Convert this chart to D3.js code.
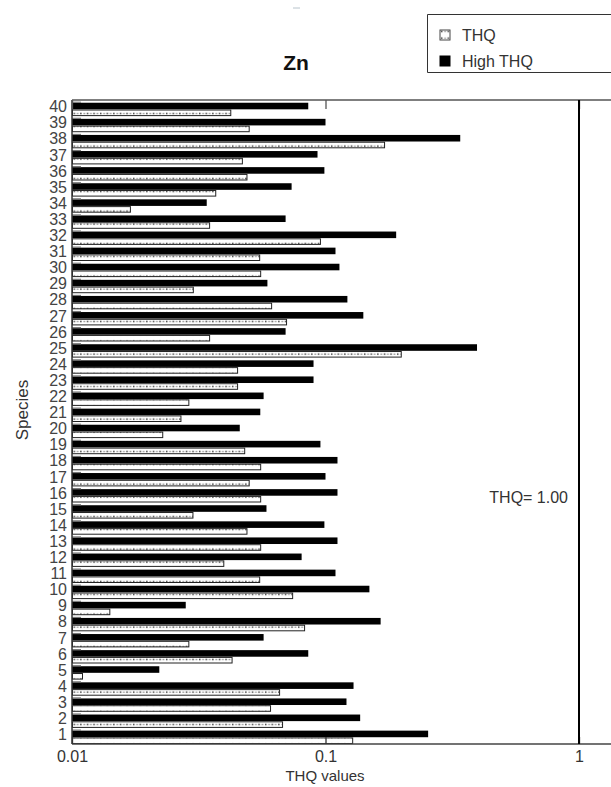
<!DOCTYPE html>
<html>
<head>
<meta charset="utf-8">
<script src="https://cdn.jsdelivr.net/npm/d3@7"></script>
<style>
  html, body { margin: 0; padding: 0; background: #fff; overflow: hidden; width: 611px; height: 787px; }
  svg { display: block; overflow: hidden; font-family: "Liberation Sans", Arial, sans-serif; }
</style>
</head>
<body>
<svg id="chart" width="611" height="787"></svg>
<script>
// ---- data ----
const species = d3.range(1, 41).map(String);            // "1" .. "40"
const seriesNames = ["THQ", "High THQ"];
const thqValues = [0.128, 0.0677, 0.0607, 0.0659, 0.011, 0.0428, 0.0289, 0.0827, 0.0141, 0.0742,
                   0.055, 0.0397, 0.0555, 0.049, 0.030, 0.0555, 0.050, 0.0555, 0.048, 0.0228,
                   0.0269, 0.0289, 0.045, 0.045, 0.199, 0.0349, 0.0702, 0.0613, 0.0301, 0.0555,
                   0.055, 0.0955, 0.0349, 0.017, 0.0369, 0.049, 0.047, 0.171, 0.050, 0.0423];
const highThqValues = [0.254, 0.137, 0.121, 0.129, 0.0221, 0.0855, 0.057, 0.165, 0.0281, 0.149,
                       0.1095, 0.0805, 0.1115, 0.099, 0.0585, 0.1115, 0.100, 0.1115, 0.0955, 0.0459,
                       0.0553, 0.057, 0.0897, 0.0897, 0.396, 0.0696, 0.141, 0.122, 0.059, 0.1135,
                       0.1095, 0.190, 0.0696, 0.034, 0.0735, 0.099, 0.093, 0.34, 0.100, 0.0855];
const xTickValues = [0.01, 0.1, 1];
const xTickLabels = ["0.01", "0.1", "1"];
const thresholdValue = 1.0;
const thresholdLabel = "THQ= 1.00";
const chartTitle = "Zn";
const xTitle = "THQ values";
const yTitle = "Species";

// ---- layout ----
const svg = d3.select("#chart");
const W = 611;
const pLeft = 72, pTop = 100, pBottom = 744;
const textColor = "#333";

const x = d3.scaleLog().domain([0.01, 1]).range([pLeft, 579]);
const y = d3.scaleBand().domain(species.slice().reverse()).range([pTop, pBottom]).paddingInner(0);
const bw = y.bandwidth();
const sub = d3.scaleBand().domain(["high", "thq"]).range([bw * 0.17, bw]).paddingInner(0.03);

// dotted pattern
const defs = svg.append("defs");
const pat = defs.append("pattern").attr("id", "dots").attr("patternUnits", "userSpaceOnUse")
  .attr("width", 6.6).attr("height", 6.5);
pat.append("rect").attr("width", 6.6).attr("height", 6.5).attr("fill", "#fff");
pat.append("rect").attr("x", 1).attr("y", 2.4).attr("width", 1.4).attr("height", 1.4).attr("fill", "#222");
pat.append("rect").attr("x", 4.2).attr("y", 2.6).attr("width", 1.8).attr("height", 1).attr("fill", "#777");

// faint artifact dash at the top
svg.append("line").attr("x1", 293).attr("x2", 300).attr("y1", 8).attr("y2", 8)
  .attr("stroke", "#b8c4cc").attr("stroke-width", 1);

const rows = species.map((s, i) => ({ s, thq: thqValues[i], high: highThqValues[i] }));

const g = svg.append("g");

// High THQ (black) bars
g.selectAll("rect.high").data(rows).join("rect")
  .attr("class", "high")
  .attr("x", pLeft)
  .attr("y", d => y(d.s) + sub("high"))
  .attr("width", d => x(d.high) - pLeft)
  .attr("height", sub.bandwidth())
  .attr("fill", "#000");

// THQ (dotted) bars
g.selectAll("rect.thq").data(rows).join("rect")
  .attr("class", "thq")
  .attr("x", pLeft + 0.5)
  .attr("y", d => y(d.s) + sub("thq") + 0.5)
  .attr("width", d => x(d.thq) - pLeft - 0.5)
  .attr("height", sub.bandwidth() - 1)
  .attr("fill", "url(#dots)")
  .attr("stroke", "#222")
  .attr("stroke-width", 1);

// small gray marks at left of each black bar
g.selectAll("line.mk").data(rows).join("line")
  .attr("class", "mk")
  .attr("x1", pLeft).attr("x2", pLeft + 9)
  .attr("y1", d => y(d.s) + sub("high") - 0.5)
  .attr("y2", d => y(d.s) + sub("high") - 0.5)
  .attr("stroke", "#777").attr("stroke-width", 1.2);

// frame: top and bottom lines, left axis
svg.append("line").attr("x1", pLeft).attr("x2", W + 10).attr("y1", pTop).attr("y2", pTop)
  .attr("stroke", "#555").attr("stroke-width", 1.3);
svg.append("line").attr("x1", pLeft).attr("x2", W + 10).attr("y1", pBottom).attr("y2", pBottom)
  .attr("stroke", "#444").attr("stroke-width", 1.3);
svg.append("line").attr("x1", pLeft).attr("x2", pLeft).attr("y1", pTop).attr("y2", pBottom)
  .attr("stroke", "#333").attr("stroke-width", 1.5);

// x axis ticks (inward) + labels
const xAxisB = d3.axisBottom(x).tickValues(xTickValues).tickFormat((d, i) => xTickLabels[i]).tickSize(-7).tickPadding(7);
const gxb = svg.append("g").attr("transform", `translate(0,${pBottom})`).call(xAxisB);
gxb.select(".domain").remove();
gxb.selectAll(".tick line").attr("stroke", "#333").attr("stroke-width", 1.3);
gxb.selectAll(".tick text").attr("font-size", 16).attr("fill", textColor)
  .attr("font-family", "'Liberation Sans', Arial, sans-serif");

const xAxisT = d3.axisTop(x).tickValues(xTickValues).tickFormat("").tickSize(-9);
const gxt = svg.append("g").attr("transform", `translate(0,${pTop})`).call(xAxisT);
gxt.select(".domain").remove();
gxt.selectAll(".tick line").attr("stroke", "#555").attr("stroke-width", 1.3);

// y labels
const yAxis = d3.axisLeft(y).tickSize(0).tickPadding(5);
const gy = svg.append("g").attr("transform", `translate(${pLeft},0)`).call(yAxis);
gy.select(".domain").remove();
gy.selectAll(".tick").attr("transform", d => `translate(0,${y(d) + bw * 0.44})`);
gy.selectAll(".tick text").attr("font-size", 16).attr("fill", "#444")
  .attr("font-family", "'Liberation Sans', Arial, sans-serif");

// threshold line
svg.append("line")
  .attr("x1", x(thresholdValue)).attr("x2", x(thresholdValue))
  .attr("y1", pTop).attr("y2", pBottom)
  .attr("stroke", "#000").attr("stroke-width", 2);
svg.append("text").attr("x", x(thresholdValue) - 11).attr("y", 503)
  .attr("text-anchor", "end").attr("font-size", 16).attr("fill", textColor)
  .text(thresholdLabel);

// titles
svg.append("text").attr("x", 296).attr("y", 70).attr("text-anchor", "middle")
  .attr("font-size", 21).attr("font-weight", "bold").attr("fill", "#111").text(chartTitle);
svg.append("text").attr("x", 325).attr("y", 781).attr("text-anchor", "middle")
  .attr("font-size", 15).attr("fill", textColor).text(xTitle);
svg.append("text").attr("transform", "translate(28,410) rotate(-90)").attr("text-anchor", "middle")
  .attr("font-size", 17).attr("fill", textColor).text(yTitle);

// legend (box runs past the right edge, as in the reference)
const lg = svg.append("g");
lg.append("path").attr("d", "M640,14.5H427.5V72.5H640")
  .attr("fill", "#fff").attr("stroke", "#333").attr("stroke-width", 1);
const legendItems = seriesNames.map((n, i) => ({ n, i }));
const li = lg.selectAll("g.li").data(legendItems).join("g").attr("class", "li")
  .attr("transform", d => `translate(440,${35 + d.i * 26})`);
li.append("rect")
  .attr("x", 0).attr("y", -5).attr("width", 10).attr("height", 10)
  .attr("fill", d => d.i === 0 ? "url(#dots)" : "#000")
  .attr("stroke", d => d.i === 0 ? "#444" : "#000");
li.append("text").attr("x", 22).attr("y", 5.5).attr("font-size", 16).attr("fill", textColor)
  .text(d => d.n);
</script>
</body>
</html>
